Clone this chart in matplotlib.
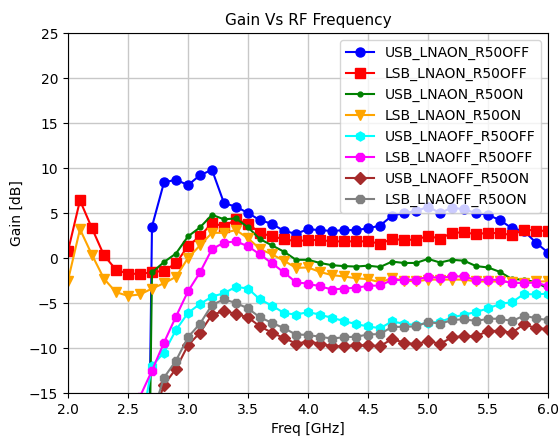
import matplotlib
matplotlib.use("Agg")
import matplotlib.pyplot as plt

freq = [2.0, 2.1, 2.2, 2.3, 2.4, 2.5, 2.6, 2.7, 2.8, 2.9,
        3.0, 3.1, 3.2, 3.3, 3.4, 3.5, 3.6, 3.7, 3.8, 3.9,
        4.0, 4.1, 4.2, 4.3, 4.4, 4.5, 4.6, 4.7, 4.8, 4.9,
        5.0, 5.1, 5.2, 5.3, 5.4, 5.5, 5.6, 5.7, 5.8, 5.9, 6.0]

usb_lnaon_r50off = [-100, -100, -100, -100, -100, -100, -100, 3.5, 8.4, 8.7,
                    8.1, 9.2, 9.8, 6.1, 5.7, 5.0, 4.2, 3.8, 3.0, 2.7,
                    3.2, 3.1, 3.0, 3.1, 3.1, 3.3, 3.6, 4.7, 5.0, 5.2,
                    5.7, 5.0, 5.6, 5.4, 5.0, 4.8, 4.2, 3.3, 3.0, 1.7, 0.6]
lsb_lnaon_r50off = [0.75, 6.4, 3.3, 0.3, -1.3, -1.75, -1.75, -1.6, -1.4, -0.6,
                    1.35, 2.4, 3.9, 3.5, 4.3, 3.8, 2.8, 2.4, 2.1, 1.85,
                    2.0, 2.0, 1.85, 1.85, 1.85, 1.85, 1.6, 2.1, 2.0, 2.05,
                    2.45, 2.15, 2.8, 2.85, 2.65, 2.8, 2.75, 2.55, 3.15, 3.05, 3.0]
usb_lnaon_r50on = [-100, -100, -100, -100, -100, -100, -100, -1.6, -0.45, 0.5,
                   2.4, 3.4, 4.8, 4.3, 4.4, 3.4, 2.1, 1.4, 0.7, -0.2,
                   -0.2, -0.55, -0.8, -0.9, -0.95, -0.85, -1.0, -0.4, -0.55, -0.55,
                   -0.1, -0.5, -0.2, -0.3, -0.9, -1.05, -1.55, -2.35, -2.4, -2.7, -3.4]
lsb_lnaon_r50on = [-2.5, 3.2, 0.35, -2.3, -3.8, -4.2, -4.05, -3.4, -2.8, -2.1,
                   0.0, 1.4, 2.8, 2.8, 3.1, 2.2, 1.0, 0.4, -0.3, -1.1,
                   -1.05, -1.55, -1.9, -2.05, -2.25, -2.35, -2.7, -2.25, -2.5, -2.6,
                   -2.4, -2.4, -2.4, -2.4, -2.6, -2.6, -2.6, -2.7, -2.8, -2.6, -2.6]
usb_lnaoff_r50off = [-40, -38, -36, -33, -30, -26, -19.5, -12.0, -10.5, -8.0,
                     -6.1, -5.1, -4.3, -3.9, -3.2, -3.4, -4.6, -5.3, -6.1, -6.3,
                     -6.0, -6.3, -6.65, -7.0, -7.35, -7.6, -7.8, -7.05, -7.3, -7.45,
                     -7.2, -7.1, -6.6, -6.3, -6.0, -5.6, -5.1, -4.9, -4.0, -4.05, -3.95]
lsb_lnaoff_r50off = [-38, -35, -32, -29, -25, -20, -15.4, -12.5, -9.4, -6.5,
                     -3.7, -1.6, 1.0, 1.7, 1.85, 1.3, 0.4, -0.6, -1.6, -2.7,
                     -2.85, -3.15, -3.5, -3.4, -3.3, -3.1, -3.05, -2.45, -2.45, -2.4,
                     -2.1, -2.2, -2.05, -2.05, -2.45, -2.4, -2.45, -2.8, -2.75, -2.75, -3.1]
usb_lnaoff_r50on = [-45, -43, -41, -38, -35, -30, -24, -18.0, -14.1, -12.3,
                    -9.7, -8.3, -6.3, -5.9, -6.2, -6.6, -7.6, -8.3, -8.9, -9.5,
                    -9.3, -9.5, -9.8, -9.8, -9.7, -9.7, -9.8, -9.0, -9.4, -9.6,
                    -9.2, -9.55, -8.8, -8.7, -8.7, -8.1, -8.1, -8.3, -7.35, -7.8, -7.9]
lsb_lnaoff_r50on = [-44, -42, -40, -37, -34, -29, -23, -17.5, -13.3, -11.4,
                    -8.8, -7.3, -5.2, -4.6, -5.0, -5.6, -6.6, -7.2, -7.8, -8.5,
                    -8.55, -8.75, -8.95, -8.8, -8.75, -8.5, -8.45, -7.65, -7.65, -7.6,
                    -7.1, -7.3, -6.9, -6.8, -7.0, -6.75, -6.75, -7.0, -6.4, -6.7, -6.9]

series = [
    ("USB_LNAON_R50OFF", usb_lnaon_r50off, "blue", "o", 6.5),
    ("LSB_LNAON_R50OFF", lsb_lnaon_r50off, "red", "s", 6.5),
    ("USB_LNAON_R50ON", usb_lnaon_r50on, "green", ".", 7),
    ("LSB_LNAON_R50ON", lsb_lnaon_r50on, "orange", "v", 6.5),
    ("USB_LNAOFF_R50OFF", usb_lnaoff_r50off, "cyan", "h", 6.5),
    ("LSB_LNAOFF_R50OFF", lsb_lnaoff_r50off, "magenta", "8", 6.5),
    ("USB_LNAOFF_R50ON", usb_lnaoff_r50on, "brown", "D", 6.5),
    ("LSB_LNAOFF_R50ON", lsb_lnaoff_r50on, "gray", "8", 6),
]

fig = plt.figure(figsize=(5.59, 4.36), dpi=100)
ax = fig.add_axes([0.1216, 0.0986, 0.8588, 0.8257])

for label, vals, color, marker, ms in series:
    ax.plot(freq, vals, color=color, marker=marker, markersize=ms,
            linewidth=1.5, label=label)

ax.set_xlim(2.0, 6.0)
ax.set_ylim(-15, 25)
ax.set_xticks([2.0, 2.5, 3.0, 3.5, 4.0, 4.5, 5.0, 5.5, 6.0])
ax.set_yticks([-15, -10, -5, 0, 5, 10, 15, 20, 25])
ax.grid(True, color="#c8c8c8", linewidth=1.0)
ax.set_axisbelow(True)
ax.set_xlabel("Freq [GHz]")
ax.set_ylabel("Gain [dB]")
ax.set_title("Gain Vs RF Frequency", fontsize=11)
ax.legend(loc="upper right")

fig.savefig("out.png", dpi=100)
